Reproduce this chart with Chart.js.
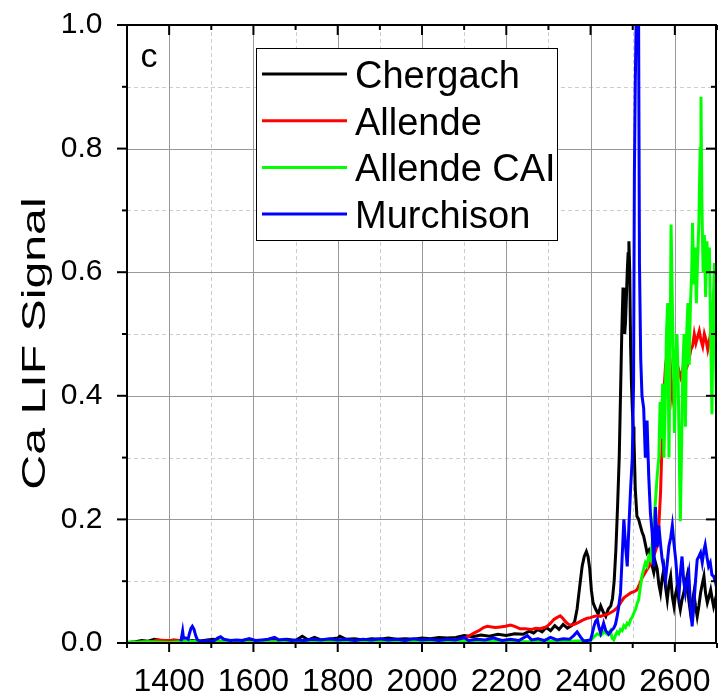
<!DOCTYPE html>
<html>
<head>
<meta charset="utf-8">
<script src="https://cdn.jsdelivr.net/npm/chart.js@4.4.0/dist/chart.umd.min.js"></script>
<style>
  html, body { margin: 0; padding: 0; background: #fff; }
</style>
</head>
<body>
<canvas id="chart" width="718" height="691"></canvas>
<script>
// axis ticks
const xTicks = [1400, 1600, 1800, 2000, 2200, 2400, 2600];
const xMinor = [1300, 1500, 1700, 1900, 2100, 2300, 2500, 2700];
const yTicks = [0, 0.2, 0.4, 0.6, 0.8, 1.0];
const yMinor = [0.1, 0.3, 0.5, 0.7, 0.9];

// Chergach
const chergachX = [1300,1320,1335,1350,1365,1380,1395,1410,1425,1440,1455,1470,1490,1505,1520,1540,1560,1580,1600,1620,1640,1660,1680,1700,1716,1730,1745,1760,1780,1800,1805,1820,1840,1860,1880,1900,1920,1940,1960,1980,2000,2020,2040,2060,2080,2100,2120,2140,2160,2180,2200,2220,2240,2255,2265,2275,2285,2295,2305,2315,2325,2335,2345,2355,2362,2368,2374,2380,2385,2390,2394,2398,2402,2406,2412,2418,2424,2430,2436,2442,2448,2452,2456,2460,2464,2468,2471,2474,2477,2479,2481,2483,2485,2487,2489,2491,2493,2495,2497,2499,2501,2503,2506,2510,2514,2518,2522,2526,2530,2534,2538,2542,2546,2550,2554,2558,2562,2566,2570,2574,2578,2582,2586,2590,2594,2598,2602,2606,2610,2613,2617,2621,2625,2629,2633,2637,2641,2645,2649,2653,2657,2661,2665,2669,2673,2677,2681,2685,2689,2692,2696,2700];
const chergachY = [0.001,0.002,0.004,0.003,0.006,0.004,0.003,0.005,0.004,0.003,0.004,0.003,0.005,0.006,0.003,0.004,0.003,0.005,0.004,0.003,0.005,0.004,0.006,0.004,0.011,0.005,0.009,0.005,0.006,0.008,0.011,0.006,0.007,0.005,0.007,0.006,0.008,0.006,0.007,0.006,0.008,0.007,0.009,0.008,0.009,0.012,0.010,0.013,0.011,0.014,0.012,0.015,0.014,0.019,0.016,0.022,0.018,0.025,0.020,0.028,0.022,0.030,0.024,0.028,0.034,0.055,0.090,0.124,0.140,0.148,0.140,0.120,0.085,0.065,0.055,0.047,0.060,0.050,0.043,0.055,0.060,0.072,0.100,0.150,0.220,0.300,0.400,0.500,0.575,0.540,0.500,0.520,0.560,0.600,0.630,0.650,0.600,0.480,0.420,0.380,0.350,0.330,0.250,0.205,0.200,0.190,0.180,0.173,0.160,0.146,0.150,0.135,0.125,0.114,0.130,0.120,0.095,0.081,0.105,0.120,0.090,0.070,0.095,0.108,0.075,0.059,0.080,0.092,0.065,0.054,0.070,0.081,0.095,0.108,0.070,0.049,0.065,0.081,0.060,0.043,0.060,0.081,0.095,0.108,0.080,0.065,0.075,0.086,0.070,0.059,0.070,0.081];

// Allende
const allendeX = [1300,1320,1340,1360,1372,1390,1410,1428,1432,1460,1500,1550,1600,1650,1700,1750,1800,1850,1900,1950,2000,2050,2090,2100,2110,2123,2135,2146,2155,2165,2175,2186,2198,2210,2220,2233,2245,2260,2270,2281,2290,2297,2305,2313,2320,2328,2334,2340,2346,2352,2360,2368,2376,2384,2392,2400,2408,2416,2424,2431,2439,2447,2455,2463,2471,2479,2487,2495,2503,2510,2516,2522,2528,2534,2540,2546,2552,2558,2562,2566,2570,2574,2578,2582,2586,2590,2594,2598,2602,2606,2610,2614,2618,2622,2626,2630,2634,2638,2642,2646,2650,2654,2658,2662,2666,2670,2674,2678,2682,2686,2690,2694,2698,2700];
const allendeY = [0.001,0.001,0.002,0.002,0.005,0.004,0.004,0.004,0.001,0.002,0.002,0.003,0.002,0.003,0.002,0.003,0.003,0.002,0.003,0.003,0.004,0.003,0.006,0.008,0.011,0.016,0.020,0.025,0.027,0.026,0.025,0.026,0.027,0.029,0.027,0.023,0.023,0.022,0.024,0.023,0.025,0.027,0.032,0.038,0.041,0.044,0.040,0.035,0.031,0.029,0.030,0.032,0.035,0.038,0.040,0.041,0.043,0.044,0.043,0.045,0.046,0.049,0.052,0.057,0.065,0.073,0.077,0.081,0.083,0.086,0.095,0.105,0.112,0.119,0.125,0.135,0.145,0.157,0.190,0.243,0.330,0.405,0.450,0.470,0.490,0.440,0.400,0.420,0.440,0.450,0.440,0.430,0.440,0.455,0.460,0.450,0.460,0.475,0.480,0.500,0.485,0.495,0.505,0.490,0.480,0.500,0.490,0.475,0.490,0.505,0.490,0.480,0.470,0.470];

// Allende CAI
const caiX = [1300,1350,1400,1450,1500,1550,1600,1650,1700,1750,1800,1850,1900,1950,2000,2050,2100,2150,2200,2250,2300,2350,2400,2408,2416,2424,2432,2440,2447,2451,2455,2459,2463,2467,2471,2475,2479,2483,2487,2491,2495,2499,2503,2507,2511,2514,2518,2522,2526,2530,2534,2538,2542,2546,2550,2554,2558,2562,2565,2568,2571,2574,2577,2580,2583,2586,2589,2591,2594,2597,2599,2602,2605,2608,2611,2613,2616,2619,2622,2625,2628,2631,2634,2637,2640,2642,2645,2648,2651,2654,2657,2660,2662,2664,2667,2670,2673,2676,2679,2682,2685,2688,2691,2694,2697,2700];
const caiY = [0.001,0.002,0.001,0.003,0.002,0.002,0.001,0.002,0.002,0.001,0.002,0.002,0.002,0.003,0.002,0.002,0.003,0.002,0.003,0.002,0.003,0.003,0.004,0.010,0.015,0.012,0.018,0.014,0.020,0.008,0.005,0.012,0.018,0.015,0.022,0.020,0.028,0.025,0.032,0.030,0.038,0.042,0.049,0.055,0.065,0.070,0.090,0.108,0.120,0.130,0.125,0.140,0.135,0.160,0.190,0.230,0.270,0.300,0.390,0.330,0.420,0.300,0.380,0.500,0.550,0.300,0.500,0.677,0.550,0.450,0.340,0.450,0.500,0.420,0.280,0.197,0.320,0.450,0.500,0.350,0.500,0.550,0.450,0.550,0.600,0.680,0.580,0.640,0.550,0.620,0.680,0.800,0.884,0.720,0.600,0.660,0.560,0.650,0.600,0.640,0.500,0.370,0.550,0.615,0.450,0.330];

// Murchison
const murchisonX = [1428,1432,1434,1440,1445,1448,1452,1455,1459,1463,1467,1475,1490,1505,1515,1522,1530,1545,1560,1575,1590,1605,1620,1635,1650,1660,1675,1690,1705,1720,1740,1760,1780,1800,1820,1840,1860,1880,1900,1920,1940,1960,1980,2000,2020,2040,2060,2080,2100,2110,2130,2150,2170,2190,2210,2230,2250,2260,2275,2290,2305,2320,2335,2350,2360,2368,2376,2384,2392,2400,2404,2408,2412,2416,2420,2424,2428,2431,2436,2443,2449,2455,2459,2463,2467,2471,2475,2479,2483,2487,2491,2495,2499,2502,2504,2506,2509,2512,2514,2516,2519,2522,2526,2530,2534,2538,2542,2546,2550,2554,2558,2562,2566,2570,2574,2578,2582,2586,2590,2594,2598,2602,2606,2610,2614,2617,2621,2625,2629,2633,2637,2641,2645,2649,2653,2657,2661,2665,2669,2672,2676,2680,2684,2688,2692,2696,2699,2700];
const murchisonY = [0.003,0.019,0.008,0.008,0.006,0.015,0.024,0.027,0.022,0.012,0.005,0.003,0.004,0.003,0.008,0.010,0.006,0.004,0.005,0.004,0.007,0.004,0.005,0.006,0.009,0.005,0.006,0.004,0.005,0.004,0.006,0.005,0.007,0.005,0.006,0.004,0.006,0.005,0.007,0.005,0.006,0.004,0.007,0.005,0.006,0.004,0.006,0.005,0.009,0.004,0.006,0.005,0.008,0.004,0.006,0.004,0.012,0.005,0.007,0.004,0.009,0.005,0.007,0.006,0.012,0.018,0.010,0.003,0.004,0.005,0.015,0.027,0.035,0.038,0.025,0.016,0.025,0.032,0.020,0.014,0.020,0.024,0.030,0.043,0.060,0.081,0.140,0.200,0.157,0.124,0.190,0.250,0.300,0.420,0.760,0.900,1.050,1.100,1.000,0.615,0.460,0.400,0.380,0.300,0.360,0.270,0.210,0.180,0.124,0.220,0.155,0.190,0.160,0.135,0.120,0.103,0.130,0.157,0.170,0.190,0.160,0.135,0.100,0.081,0.120,0.140,0.100,0.081,0.100,0.114,0.060,0.027,0.060,0.100,0.135,0.140,0.146,0.130,0.150,0.159,0.140,0.124,0.130,0.110,0.108,0.100,0.090,0.000];

const labels = ["Chergach", "Allende", "Allende CAI", "Murchison"];
const colors = ["#000000", "#ff0000", "#00ff00", "#0000ff"];
const seriesX = [chergachX, allendeX, caiX, murchisonX];
const seriesY = [chergachY, allendeY, caiY, murchisonY];

const FONT = "'Liberation Sans', Arial, sans-serif";

const datasets = labels.map((name, i) => ({
  label: name,
  data: seriesX[i].map((x, j) => ({ x: x, y: seriesY[i][j] })),
  borderColor: colors[i],
  backgroundColor: colors[i],
  borderWidth: 3,
  pointRadius: 0,
  tension: 0,
  order: labels.length - i
}));

function seg(ctx, x1, y1, x2, y2) {
  ctx.beginPath();
  ctx.moveTo(x1, y1);
  ctx.lineTo(x2, y2);
  ctx.stroke();
}

const decor = {
  id: "decor",
  beforeDatasetsDraw(chart) {
    const { ctx, chartArea: a, scales: { x, y } } = chart;
    ctx.save();
    ctx.lineWidth = 1;
    // minor dashed grid
    ctx.strokeStyle = "#cccccc";
    ctx.setLineDash([4, 3]);
    xMinor.forEach(v => {
      const p = Math.round(x.getPixelForValue(v)) + 0.5;
      if (p > a.left + 2 && p < a.right - 2) seg(ctx, p, a.top, p, a.bottom);
    });
    yMinor.forEach(v => {
      const p = Math.round(y.getPixelForValue(v)) + 0.5;
      seg(ctx, a.left, p, a.right, p);
    });
    // major solid grid
    ctx.setLineDash([]);
    ctx.strokeStyle = "#999999";
    xTicks.forEach(v => {
      const p = Math.round(x.getPixelForValue(v)) + 0.5;
      seg(ctx, p, a.top, p, a.bottom);
    });
    yTicks.forEach(v => {
      const p = Math.round(y.getPixelForValue(v)) + 0.5;
      if (p > a.top + 2 && p < a.bottom - 2) seg(ctx, a.left, p, a.right, p);
    });
    ctx.restore();
  },
  afterDraw(chart) {
    const { ctx, chartArea: a, scales: { x, y } } = chart;
    ctx.save();
    // frame
    ctx.strokeStyle = "#000";
    ctx.lineWidth = 2;
    ctx.strokeRect(a.left, a.top, a.right - a.left - 1, a.bottom - a.top);
    // tick marks
    xTicks.forEach(v => {
      const p = x.getPixelForValue(v);
      seg(ctx, p, a.bottom, p, a.bottom + 9);
      seg(ctx, p, a.top, p, a.top + 10);
    });
    xMinor.forEach(v => {
      const p = x.getPixelForValue(v);
      seg(ctx, p, a.bottom, p, a.bottom + 5);
      seg(ctx, p, a.top, p, a.top + 5);
    });
    yTicks.forEach(v => {
      const p = y.getPixelForValue(v);
      seg(ctx, a.left, p, a.left - 10, p);
      seg(ctx, a.right - 1, p, a.right - 11, p);
    });
    yMinor.forEach(v => {
      const p = y.getPixelForValue(v);
      seg(ctx, a.left, p, a.left - 5, p);
      seg(ctx, a.right - 1, p, a.right - 6, p);
    });

    // panel letter
    ctx.fillStyle = "#000";
    ctx.font = "34px " + FONT;
    ctx.textAlign = "left";
    ctx.textBaseline = "alphabetic";
    ctx.fillText("c", 140.5, 66.5);

    // legend box
    const lx = 256.5, ly = 48.5, lw = 301, lh = 192;
    ctx.fillStyle = "#fff";
    ctx.fillRect(lx, ly, lw, lh);
    ctx.lineWidth = 1;
    ctx.strokeStyle = "#000";
    ctx.strokeRect(lx, ly, lw, lh);
    ctx.font = "38px " + FONT;
    chart.data.datasets.forEach((ds, i) => {
      const ry = 74 + i * 46.7;
      ctx.strokeStyle = ds.borderColor;
      ctx.lineWidth = 3;
      seg(ctx, 262, ry, 347, ry);
      ctx.fillStyle = "#000";
      ctx.fillText(ds.label, 355, ry + 14);
    });

    // y axis title, stretched along its length like the original
    ctx.save();
    ctx.translate(45, 343.5);
    ctx.rotate(-Math.PI / 2);
    ctx.scale(1.44, 1);
    ctx.font = "33.5px " + FONT;
    ctx.textAlign = "center";
    ctx.textBaseline = "alphabetic";
    ctx.fillStyle = "#000";
    ctx.fillText("Ca LIF Signal", 0, 0);
    ctx.restore();

    ctx.restore();
  }
};

new Chart(document.getElementById("chart"), {
  type: "line",
  data: { datasets: datasets },
  options: {
    responsive: false,
    animation: false,
    devicePixelRatio: 1,
    layout: { padding: { top: 25, right: 1, left: 0, bottom: 0 } },
    plugins: { legend: { display: false }, tooltip: { enabled: false } },
    scales: {
      x: {
        type: "linear",
        min: 1300,
        max: 2700,
        afterBuildTicks: s => { s.ticks = xTicks.map(v => ({ value: v })); },
        afterFit: s => { s.height = 48; s.paddingLeft = 0; s.paddingRight = 0; },
        grid: { display: false },
        border: { display: false },
        ticks: {
          padding: 12,
          color: "#000",
          maxRotation: 0,
          font: { family: FONT, size: 32 },
          callback: v => String(v)
        }
      },
      y: {
        type: "linear",
        min: 0,
        max: 1,
        afterBuildTicks: s => { s.ticks = yTicks.map(v => ({ value: v })); },
        afterFit: s => { s.width = 127; s.paddingTop = 0; s.paddingBottom = 0; },
        grid: { display: false },
        border: { display: false },
        ticks: {
          padding: 16.5,
          color: "#000",
          font: { family: FONT, size: 30 },
          callback: v => Number(v).toFixed(1)
        }
      }
    }
  },
  plugins: [decor]
});
</script>
</body>
</html>
